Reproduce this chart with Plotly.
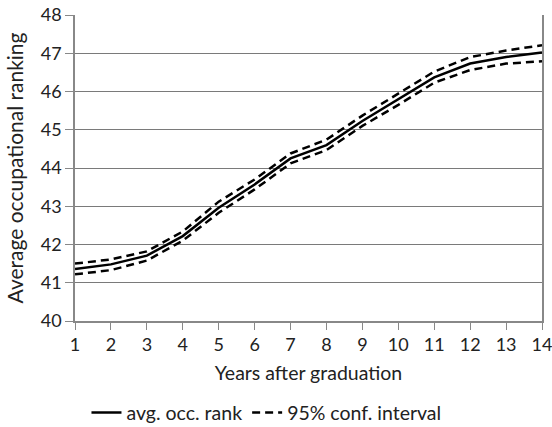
import plotly.graph_objects as go

years = list(range(1, 15))
avg_rank = [41.36, 41.48, 41.71, 42.22, 42.96, 43.57, 44.25, 44.6, 45.23, 45.8, 46.37, 46.73, 46.9, 47.02]
upper_ci = [41.5, 41.61, 41.82, 42.34, 43.12, 43.7, 44.38, 44.74, 45.37, 45.94, 46.52, 46.9, 47.07, 47.21]
lower_ci = [41.22, 41.33, 41.58, 42.1, 42.83, 43.44, 44.12, 44.47, 45.1, 45.65, 46.23, 46.56, 46.73, 46.79]

FONT = "Lato"
DASH = "8px,5px"
fig = go.Figure()
fig.add_trace(go.Scatter(x=years, y=avg_rank, mode="lines", name="avg. occ. rank",
                         line=dict(color="black", width=2.5)))
fig.add_trace(go.Scatter(x=years, y=upper_ci, mode="lines", name="95% conf. interval",
                         line=dict(color="black", width=2.5, dash=DASH)))
fig.add_trace(go.Scatter(x=years, y=lower_ci, mode="lines", name="95% conf. interval",
                         showlegend=False,
                         line=dict(color="black", width=2.5, dash=DASH)))

fig.update_layout(
    width=552, height=427,
    margin=dict(l=75, r=10, t=15, b=106, autoexpand=False),
    plot_bgcolor="white", paper_bgcolor="white",
    font=dict(family=FONT, size=17, color="#222"),
    legend=dict(orientation="h", x=0.41, xanchor="center", y=-0.30, yanchor="middle",
                font=dict(size=19.5), itemwidth=30, tracegroupgap=0),
    xaxis=dict(range=[1, 14], tickmode="array", tickvals=years, automargin=False,
               ticklabeloverflow="allow",
               title=dict(text="Years after graduation", standoff=12, font=dict(size=19.5)),
               showgrid=False, showline=True, linecolor="#888", linewidth=1.5,
               ticks="outside", ticklen=7, tickcolor="#888", tickfont=dict(size=18),
               zeroline=False),
    yaxis=dict(range=[40, 48], dtick=1, automargin=False,
               title=dict(text="Average occupational ranking", standoff=11, font=dict(size=21)),
               showgrid=True, gridcolor="#7a7a7a", gridwidth=1.2,
               showline=True, linecolor="#888", linewidth=1.5, mirror=True,
               ticks="outside", ticklen=8, tickcolor="#888", tickfont=dict(size=18),
               zeroline=False),
)
fig.write_html("out.html", config={"displayModeBar": False},
               post_script="document.body.style.margin='0';document.body.style.overflow='hidden';")
